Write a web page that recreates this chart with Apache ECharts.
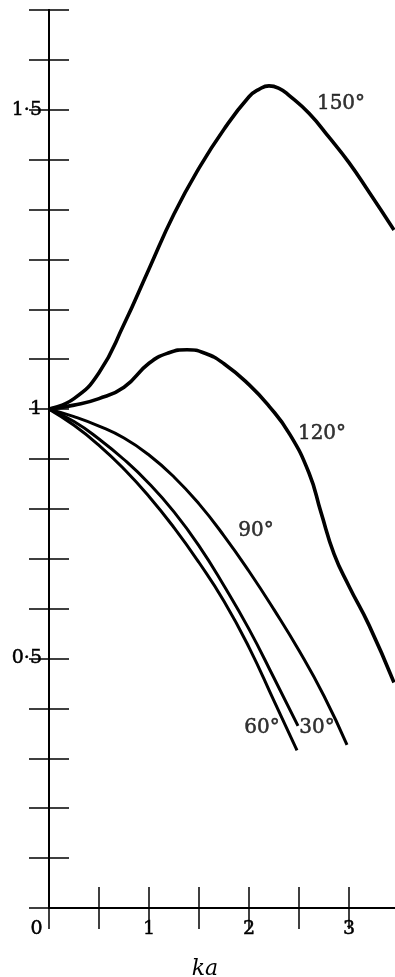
<!DOCTYPE html>
<html>
<head>
<meta charset="utf-8">
<script src="https://cdn.jsdelivr.net/npm/echarts/dist/echarts.min.js"></script>
<style>
html,body{margin:0;padding:0;background:#fff;overflow:hidden;}
#chart{width:395px;height:977px;}
</style>
</head>
<body>
<div id="chart"></div>
<script>
// ---- data ----
const ka150 = [0, 0.25, 0.50, 0.75, 1.00, 1.25, 1.50, 1.75, 2.00, 2.10, 2.20, 2.30, 2.40, 2.60, 2.80, 3.00, 3.20, 3.45];
const v150  = [1.0, 1.021, 1.073, 1.170, 1.281, 1.391, 1.483, 1.561, 1.626, 1.641, 1.648, 1.643, 1.629, 1.593, 1.545, 1.494, 1.435, 1.359];

const ka120 = [0, 0.25, 0.50, 0.75, 1.00, 1.20, 1.38, 1.56, 1.75, 2.00, 2.20, 2.40, 2.60, 2.72, 2.85, 3.00, 3.20, 3.45];
const v120  = [1.0, 1.008, 1.021, 1.044, 1.092, 1.113, 1.119, 1.112, 1.091, 1.049, 1.006, 0.952, 0.872, 0.793, 0.710, 0.645, 0.567, 0.452];

const ka90 = [0, 0.25, 0.50, 0.75, 1.00, 1.25, 1.50, 1.75, 2.00, 2.25, 2.50, 2.75, 2.98];
const v90  = [1.0, 0.985, 0.966, 0.942, 0.908, 0.864, 0.810, 0.746, 0.675, 0.598, 0.516, 0.425, 0.327];

const ka30 = [0, 0.25, 0.50, 0.75, 1.00, 1.25, 1.50, 1.75, 2.00, 2.25, 2.49];
const v30  = [1.0, 0.975, 0.940, 0.899, 0.851, 0.794, 0.726, 0.646, 0.559, 0.461, 0.365];

const ka60 = [0, 0.25, 0.50, 0.75, 1.00, 1.25, 1.50, 1.75, 2.00, 2.25, 2.48];
const v60  = [1.0, 0.9675, 0.9275, 0.880, 0.825, 0.7625, 0.6925, 0.615, 0.5225, 0.415, 0.316];

const curveNames = ['150°', '120°', '90°', '30°', '60°'];
const labelTexts = ['150°', '120°', '90°', '60°', '30°'];
const labelKa    = [2.92, 2.73, 2.07, 2.13, 2.68];
const labelVal   = [1.611, 0.950, 0.757, 0.361, 0.361];

const xTickLabels = [[0, '0'], [1, '1'], [2, '2'], [3, '3']];
const yTickLabels = [[0.5, '0·5'], [1, '1'], [1.6, '1·5']];
const xName = 'ka';

// ---- chart ----
function zip(xs, ys) { return xs.map((x, i) => [x, ys[i]]); }
function lookup(table, v) {
  for (const [k, s] of table) if (Math.abs(k - v) < 1e-6) return s;
  return null;
}
const serif = 'DejaVu Serif';
const frameLine = { lineStyle: { color: '#000', width: 2 } };
const tick = len => ({ inside: true, length: len, lineStyle: { color: '#000', width: 1.5 } });
const txt = { color: '#000', fontFamily: serif, textBorderColor: '#000', textBorderWidth: 0.5 };

const seriesData = [zip(ka150, v150), zip(ka120, v120), zip(ka90, v90), zip(ka30, v30), zip(ka60, v60)];
const widths = [3.6, 3.6, 3, 3, 3];

const chart = echarts.init(document.getElementById('chart'), null, { renderer: 'canvas' });
chart.setOption({
  backgroundColor: '#fff',
  animation: false,
  grid: { left: 49, top: 10, width: 350, height: 898, outerBoundsMode: 'none', containLabel: false },
  xAxis: [
    {
      type: 'value', min: 0, max: 3.5, interval: 0.5, position: 'bottom',
      axisLine: frameLine, axisTick: tick(21), splitLine: { show: false },
      axisLabel: Object.assign({
        margin: 12, fontSize: 19,
        formatter: v => { const s = lookup(xTickLabels, v); if (s === null) return ''; return v === 0 ? '{z|' + s + '}' : s; },
        rich: { z: Object.assign({ fontSize: 19, padding: [0, 25, 0, 0] }, txt) }
      }, txt),
      name: xName, nameLocation: 'middle', nameGap: 50,
      nameTextStyle: { fontStyle: 'italic', fontFamily: serif, fontSize: 22, color: '#000', padding: [0, 38, 0, 0] }
    },
    {
      type: 'value', min: 0, max: 3.5, interval: 0.5, position: 'top',
      axisLine: frameLine, axisTick: tick(21), axisLabel: { show: false }, splitLine: { show: false }
    }
  ],
  yAxis: [
    {
      type: 'value', min: 0, max: 1.8, interval: 0.1, position: 'left',
      axisLine: frameLine, axisTick: tick(20), splitLine: { show: false },
      axisLabel: Object.assign({
        margin: 7, fontSize: 19,
        formatter: v => lookup(yTickLabels, v) || ''
      }, txt)
    },
    {
      type: 'value', min: 0, max: 1.8, interval: 0.1, position: 'right',
      axisLine: frameLine, axisTick: tick(20), axisLabel: { show: false }, splitLine: { show: false }
    }
  ],
  series: seriesData.map((d, i) => ({
    name: curveNames[i], type: 'line', data: d, smooth: 0.5,
    showSymbol: false, symbol: 'none',
    lineStyle: { color: '#000', width: widths[i], cap: 'butt', join: 'round' }
  })).concat([{
    type: 'scatter', symbolSize: 0, silent: true,
    data: labelTexts.map((t, i) => ({ value: [labelKa[i], labelVal[i]], name: t })),
    label: Object.assign({ show: true, position: 'inside', formatter: p => p.name, fontSize: 20 }, txt)
  }])
});
</script>
</body>
</html>
